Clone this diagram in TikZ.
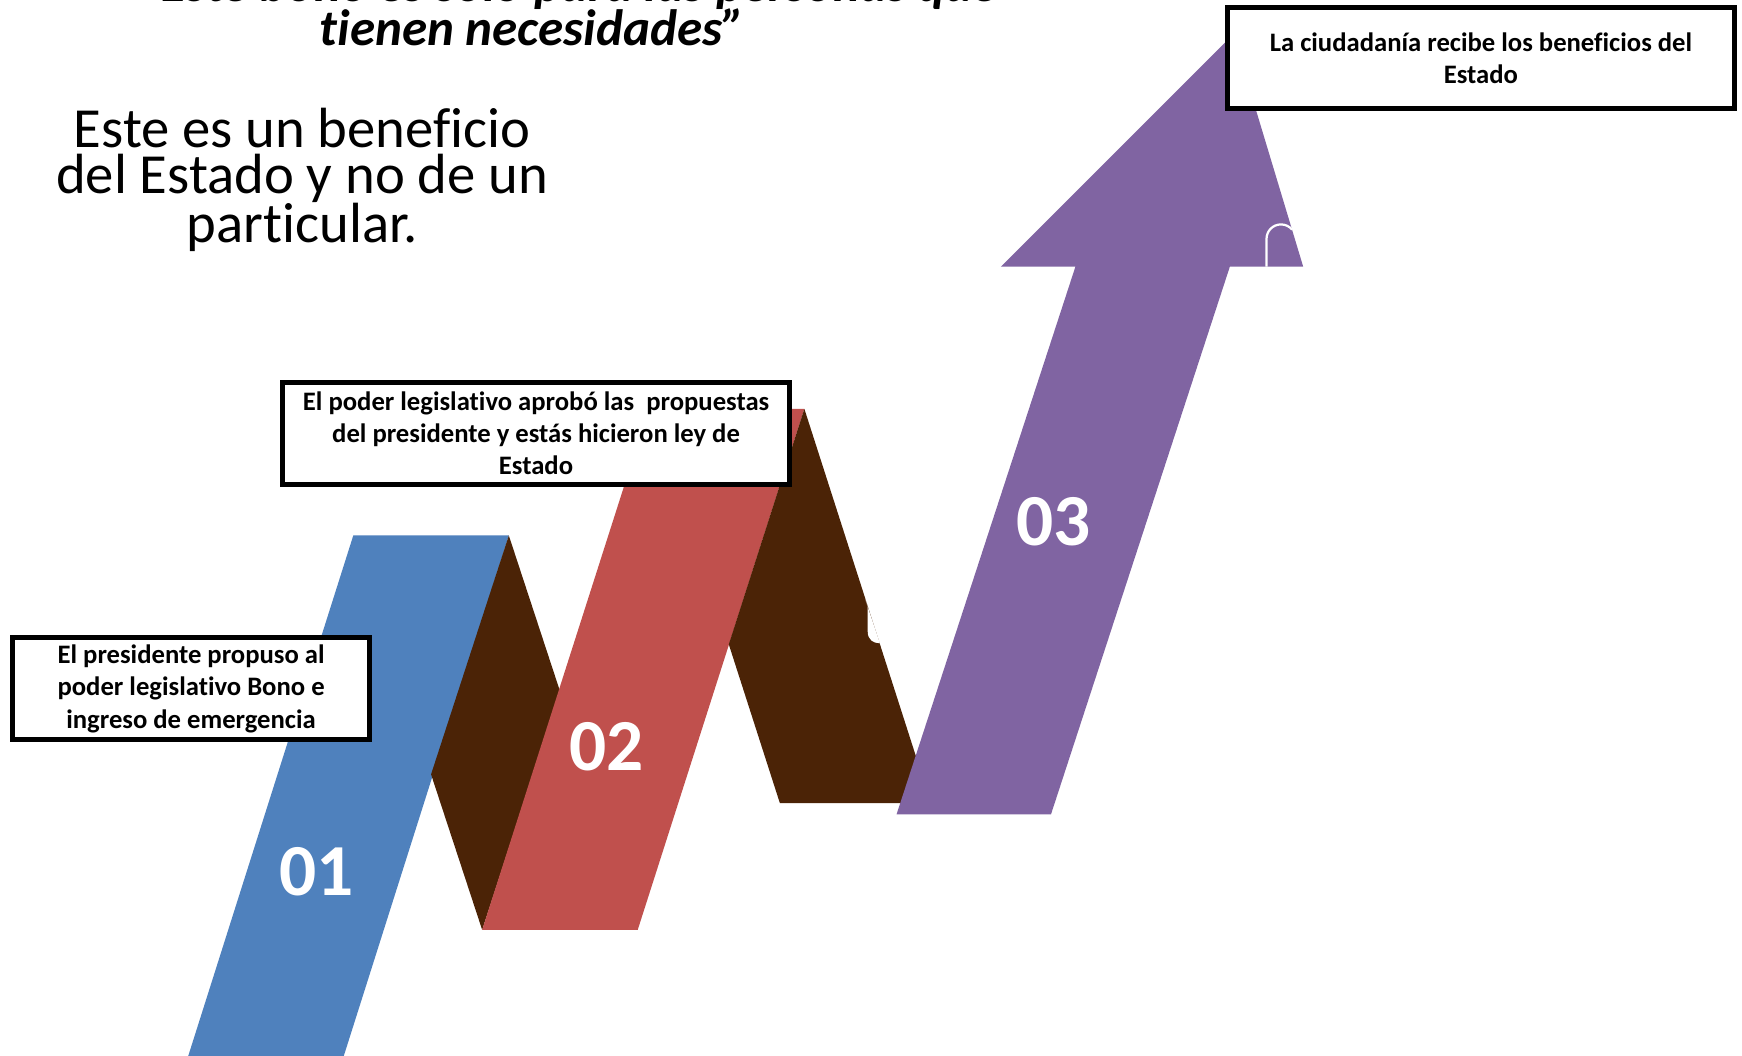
\documentclass[tikz,border=0pt]{standalone}
\usepackage{fontspec}
\setmainfont{Carlito}[Ligatures=NoCommon]
\definecolor{cblue}{HTML}{4F81BD}
\definecolor{cred}{HTML}{C0504D}
\definecolor{cbrown}{HTML}{4B2306}
\definecolor{cpurple}{HTML}{8064A2}
\begin{document}
\begin{tikzpicture}[x=1pt,y=-1pt,
  infobox/.style={draw=black,line width=4.5pt,fill=white,inner sep=0pt,align=center,
    font=\fontsize{24}{29}\selectfont\bfseries},
  stepnum/.style={text=white,inner sep=0pt,font=\fontsize{66}{66}\selectfont\bfseries},
  titletext/.style={inner sep=0pt,font=\fontsize{46}{40}\selectfont\bfseries\itshape}]
\useasboundingbox (0,0) rectangle (1568,950);
\clip (0,0) rectangle (1568,950);
\fill[white] (0,0) rectangle (1568,950);
% title (first line mostly cut off at the top)
\node[titletext,anchor=base] (title1) at (512,1) {“Este bono es solo para las personas que};
\node[titletext,anchor=base] (title2) at (479,41) {tienen necesidades”};
% subtitle
\node[inner sep=0pt,align=center,font=\fontsize{51}{41}\selectfont] (sub) at (272,162)
  {Este es un beneficio\\del Estado y no de un\\particular.};
% bands
\fill[cblue] (168,955) -- (308,955) -- (458,482) -- (318,482) -- cycle;
\fill[cbrown] (458,482) -- (504,622) -- (434,837) -- (388,697) -- cycle;
\fill[cred] (434,837) -- (574,837) -- (724,368) -- (584,368) -- cycle;
\fill[cbrown] (724,368) -- (838,723) -- (702,723) -- (656,580) -- cycle;
\fill[white] (779,540) -- (781,546) -- (781,568) .. controls (781,576) and (786,579) .. (792,579) -- cycle;
\fill[cpurple] (807,733) -- (946,733) -- (1107,240) -- (1173,240) -- (1110,31)
  -- (901,240) -- (968,240) -- cycle;
\draw[white,line width=2pt] (1140,240) -- (1140,215) arc[start angle=180,end angle=320,radius=13];
% numbers
\node[stepnum] (n1) at (285,785) {01};
\node[stepnum] (n2) at (546,672) {02};
\node[stepnum] (n3) at (948,470) {03};
% boxes
\node[infobox,minimum width=322pt,minimum height=92pt] (b1) at (172,620)
  {El presidente propuso al\\poder legislativo Bono e\\ingreso de emergencia};
\node[infobox,minimum width=457pt,minimum height=92pt] (b2) at (482.5,390)
  {El poder legislativo aprobó las\ \ propuestas\\del presidente y estás hicieron ley de\\Estado};
\node[infobox,minimum width=456pt,minimum height=91pt] (b3) at (1333,52.5)
  {La ciudadanía recibe los beneficios del\\Estado};
\end{tikzpicture}
\end{document}
